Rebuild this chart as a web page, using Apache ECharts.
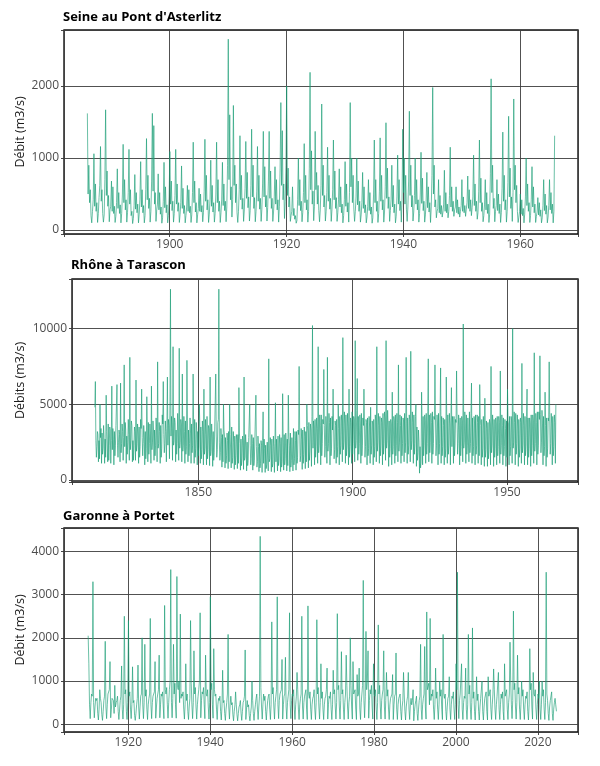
<!DOCTYPE html>
<html><head><meta charset="utf-8">
<script src="https://cdn.jsdelivr.net/npm/echarts@6/dist/echarts.min.js"></script>
<style>html,body{margin:0;padding:0;background:#fff}#c{width:600px;height:766px}</style>
</head><body><div id="c"></div>
<script>
const panelTitles = ["Seine au Pont d'Asterlitz", "Rhône à Tarascon", "Garonne à Portet"];
const yAxisNames = ["Débit (m3/s)", "Débits (m3/s)", "Débit (m3/s)"];

// Seine: starts 1885.9, 8 values per year
const seineStart = 1885.9, seinePerYear = 8;
const seineFlow = [
1620,500,900,380,560,200,100,260,
420,1060,330,640,260,380,105,230,
450,620,1160,400,560,230,110,210,
700,1670,480,820,330,480,115,280,
330,680,260,600,230,330,105,190,
380,850,300,520,230,350,100,230,
500,1190,380,700,280,420,110,240,
520,1120,360,560,200,260,90,160,
340,770,290,520,240,360,100,220,
420,950,320,560,240,340,100,200,
560,1270,420,760,300,440,110,260,
680,1620,540,1450,360,520,120,280,
360,780,280,520,220,320,95,170,
400,940,310,600,240,350,100,200,
460,1090,360,680,270,400,110,230,
480,1120,360,640,260,380,105,220,
380,890,300,580,230,340,100,200,
320,620,260,560,240,330,105,210,
520,1220,380,680,250,380,100,210,
300,580,260,500,250,340,115,240,
540,1260,400,760,280,420,105,220,
420,970,330,620,250,380,110,230,
500,1220,380,700,260,400,105,240,
430,940,340,640,270,400,115,320,
900,2650,700,1600,420,600,180,420,
1730,620,900,380,640,240,105,260,
560,1310,420,760,290,440,120,280,
580,1230,440,800,310,460,125,270,
620,1400,460,900,300,450,115,260,
540,1160,400,760,290,440,120,290,
640,1370,460,880,320,480,125,310,
680,1370,440,820,300,440,120,250,
460,880,360,700,280,420,110,330,
860,1770,620,1380,420,640,160,400,
900,2000,480,860,320,460,120,200,
260,600,200,300,150,200,95,130,
420,1000,340,700,270,400,115,240,
520,1200,380,760,280,420,110,260,
860,2190,560,1100,360,540,130,330,
1370,560,800,360,620,270,115,280,
620,1750,480,900,320,480,125,260,
520,1150,400,760,290,440,120,280,
560,1250,420,820,300,450,120,240,
420,850,320,600,240,360,100,200,
420,950,330,640,250,380,110,520,
1770,600,1000,380,760,290,120,260,
460,1000,350,680,260,400,110,210,
380,800,300,600,240,350,100,180,
330,700,270,520,220,320,95,170,
500,1250,380,700,260,400,105,230,
540,1280,400,760,280,420,110,250,
600,1490,440,860,300,460,120,270,
420,900,320,620,240,360,100,190,
460,1040,360,700,270,400,110,430,
1400,520,1000,360,760,290,120,320,
680,1650,480,900,320,480,125,250,
480,1000,360,700,280,420,110,230,
500,1080,370,720,270,400,110,210,
400,800,310,600,250,380,105,320,
760,1980,500,900,320,420,170,260,
300,700,240,480,220,340,180,250,
360,830,260,520,240,360,170,260,
480,1150,320,600,260,400,190,280,
320,600,240,420,220,320,180,260,
340,700,260,460,240,340,190,290,
380,750,300,560,260,420,200,310,
460,1040,340,640,260,400,150,240,
540,1250,380,720,260,380,115,200,
360,700,280,520,230,360,105,220,
780,2100,520,900,300,440,115,260,
340,700,270,500,230,360,105,240,
580,1360,400,760,280,420,110,260,
660,1580,460,860,300,460,120,520,
1820,560,900,380,620,260,105,180,
260,500,220,420,200,300,100,220,
460,1000,340,640,260,380,105,200,
420,880,320,600,240,360,105,190,
250,450,210,380,190,280,100,170,
340,700,270,500,220,340,100,180,
340,700,280,520,230,360,100,260,
1310
];

// Rhône: starts 1816.5, 6 values per year
const rhoneStart = 1816.5, rhonePerYear = 6;
const rhoneFlow = [
4800,6500,2600,1500,2200,3200,
3000,1200,2600,1400,5000,2800,
3400,1100,3100,1700,2100,3600,
2800,1100,2700,1500,5600,3200,
3100,1200,3700,1300,2300,3500,
3300,1100,2600,6200,2000,3400,
2700,1000,3200,1600,2300,3600,
3500,6300,2300,1500,2500,3300,
3000,1200,6400,1800,2400,3700,
3200,1300,2800,7600,2200,3800,
3300,1100,2900,1700,2500,4000,
3000,1300,8100,2000,2600,3900,
3600,1200,2600,1300,2300,3500,
3200,1300,6600,1900,2400,3700,
3100,1100,3500,1500,2200,4000,
3400,6000,2800,1600,2400,3600,
2900,1000,3200,1400,2100,5500,
3300,1200,3800,1700,2400,3700,
3100,1100,6200,2000,2500,3900,
3300,1300,3300,1600,2300,4100,
3500,1200,7800,2100,2400,3800,
3200,1100,3600,1500,2100,4300,
3700,6500,3000,1800,2400,3900,
3200,1200,3400,6800,2300,4000,
3600,1400,5200,12600,2900,4200,
3400,1300,8800,2300,2600,4100,
3800,1200,3300,1700,2400,4400,
3300,1300,8700,2100,2500,4000,
3700,1200,7000,1900,2300,4200,
3200,1100,3900,1700,2200,7900,
3900,1200,3300,1600,2400,4100,
3100,1100,3700,1800,2300,7000,
3500,1100,4000,1500,2100,3800,
3300,1000,3200,1600,2200,5000,
3700,1100,3500,1400,2000,3900,
3200,1000,6000,1700,2100,4000,
3000,1000,4200,1400,2000,3600,
3400,950,6800,1600,1900,3700,
2900,900,3200,1300,1800,3500,
3500,7000,2900,1500,2000,3800,
4000,12600,2500,1300,1800,3400,
2800,850,3000,1200,5000,3300,
2900,800,2800,1100,1600,3100,
2600,750,3200,1200,5000,3000,
2900,800,3500,1100,1500,3200,
2500,700,2900,1000,1600,3000,
2700,750,3000,1100,6100,3100,
2400,650,2700,950,1400,2900,
2600,700,6800,1300,1500,3000,
2300,600,2500,950,1300,2800,
2700,5000,2300,1000,1400,3000,
2400,650,2800,950,1300,2700,
2600,5600,2200,850,1200,2900,
2200,550,2400,800,1100,2600,
2300,500,2600,4500,1100,2700,
2100,500,2300,750,1000,2500,
2500,600,8000,1200,1400,2800,
2300,550,2700,850,1100,2900,
2200,500,2400,5100,1200,2700,
2600,600,2900,950,1300,3000,
2400,550,2800,850,1200,5700,
2700,650,3000,1000,1400,3100,
2500,600,2700,950,5600,2900,
2300,550,3100,850,1300,2800,
2800,600,3400,1000,1400,3200,
2600,650,3200,1100,1500,3300,
3000,7500,3500,1200,1600,3400,
2700,700,3300,1100,1700,3500,
2900,750,3200,1200,5000,3600,
3100,800,3800,1300,1900,3700,
3300,900,4200,10200,2100,3900,
3500,1000,4000,1500,2200,4100,
3400,1100,8800,1800,2300,4300,
3600,1000,4300,1600,2400,4000,
3700,7300,3600,1500,2200,4200,
3500,1100,8100,1900,2400,4400,
3800,1000,4100,1600,2100,4200,
3300,6000,3500,1400,2000,3900,
3600,1100,4000,1500,2200,5000,
3400,1000,4200,1700,2300,4300,
3900,1200,9400,2000,2500,4500,
3700,1100,4300,1600,2300,4400,
3500,1000,6000,1500,2200,4100,
3800,1100,4500,1700,2400,4200,
4000,1200,9200,2100,2600,4600,
6700,1300,4200,1700,2400,4300,
3700,1100,4400,1600,2300,4100,
3600,6000,3900,1500,2200,4000,
3800,1000,4100,1600,2100,4200,
3500,1100,4800,1700,2300,3900,
3700,1000,4000,1500,2200,4300,
3900,1200,8800,1900,2500,4400,
3600,1100,4200,1600,2300,4100,
3800,1000,4400,1700,2400,4500,
4100,1300,9200,2100,2600,4600,
3500,900,3900,1500,2100,4000,
3700,1000,5800,1700,2200,4200,
3900,1100,4300,1600,2300,4400,
3800,1200,7600,1900,2500,4300,
3600,1100,4200,1600,2400,4100,
3900,1200,4400,1800,2500,8100,
3700,1100,4100,1700,2300,4300,
4000,1200,8500,2000,2600,4500,
3800,1100,4300,1700,2400,4200,
5000,900,3500,1300,1800,3300,
2500,450,2200,800,1200,5800,
3700,1000,4200,1600,2300,4300,
3900,1100,4400,1700,2400,4500,
8000,1200,4300,1800,2500,4400,
3800,1100,4500,1700,2400,4200,
4000,7600,4100,1600,2300,4300,
3700,1000,4400,1700,2400,4500,
7400,1100,4200,1600,2200,4100,
3600,1000,4000,1500,2100,6800,
3900,1100,4300,1700,2300,4400,
3700,1000,4100,6100,2200,4200,
3500,1100,4200,1600,2300,4000,
3800,7200,4000,1700,2400,4300,
3600,1000,4100,1600,2200,4200,
3900,1200,10300,2100,2500,4500,
3700,1100,4300,1700,2300,4100,
4000,1200,4500,1800,2400,4400,
6400,1100,4100,1600,2200,4200,
3700,1000,4300,1700,2300,4300,
3800,1100,4200,1600,6300,4100,
3600,1000,4000,1500,2100,4200,
3500,900,5400,1500,2000,3900,
3400,900,3800,1400,2000,4000,
3700,1000,7500,1800,2300,4300,
3500,900,4000,1500,2100,4100,
3700,1000,4200,1600,2200,4200,
3800,1100,7200,1700,2300,4300,
3600,1000,4100,1600,2200,4000,
3400,900,3900,1500,6000,3900,
3700,1000,4200,1600,2200,4200,
3900,1100,10000,2100,2500,4500,
3800,1000,4400,1700,2400,4300,
3500,900,4000,1500,2100,4100,
3800,1100,7700,1800,2300,4400,
3600,1000,4200,1600,2200,4200,
6000,1000,4100,1500,2100,4100,
3700,900,4300,1600,2300,4300,
3900,1100,8400,1900,2400,4400,
3800,1000,4500,1700,2300,4500,
4000,8200,4300,1800,2500,4600,
3700,1000,4200,1600,2200,5800,
3600,900,4100,1500,2100,4100,
3900,7800,4300,1700,2400,4400,
3700,1000,4200,1600,2200,4300,
3800,1100,5000
];

// Garonne: starts 1910.2, 6 values per year
const garonneStart = 1910.2, garonnePerYear = 6;
const garonneFlow = [
2050,1400,450,130,500,700,
650,3300,500,150,400,600,
550,600,250,100,350,800,
600,500,220,90,300,550,
650,1920,400,130,450,700,
700,800,1450,150,350,600,
600,550,250,900,400,500,
550,650,300,110,330,550,
650,1350,350,120,450,2500,
700,800,300,110,500,2400,
650,750,350,130,450,1330,
500,550,200,90,250,450,
600,1370,400,120,400,650,
700,2000,450,130,500,1850,
650,800,350,110,450,600,
700,2450,450,130,500,650,
650,750,1450,140,400,600,
700,800,1600,150,450,700,
650,750,400,130,2750,800,
700,850,450,140,500,800,
1000,3580,500,150,600,1850,
700,950,450,140,3420,850,
800,1000,500,2550,600,700,
650,750,350,120,450,1400,
550,700,300,110,400,600,
2400,950,450,130,500,1700,
700,850,400,120,450,650,
800,1000,2580,150,550,750,
700,850,450,130,1600,700,
650,800,400,120,500,2950,
800,950,450,140,1750,800,
650,700,350,110,450,600,
550,650,300,100,400,1250,
500,550,250,90,350,500,
700,2080,400,120,450,650,
450,500,220,80,300,450,
750,450,220,80,250,400,
450,550,250,90,300,500,
550,650,1720,110,350,550,
400,450,200,80,250,400,
1000,550,250,90,300,450,
600,700,350,110,400,650,
4350,850,400,120,450,700,
550,650,300,100,350,550,
650,700,350,110,450,2370,
700,850,400,120,500,650,
800,2950,450,130,550,700,
700,800,1500,120,450,650,
700,1550,400,120,500,650,
800,2580,450,130,550,700,
650,800,350,110,450,650,
1200,800,350,110,450,600,
700,2500,400,120,500,650,
650,800,350,110,2740,700,
600,750,350,110,450,600,
650,800,350,110,500,2420,
700,850,400,120,500,1400,
600,750,350,110,450,600,
650,800,1300,120,450,650,
600,750,350,110,450,1250,
700,800,400,120,500,2560,
800,900,400,120,550,1680,
700,800,350,110,500,700,
1600,900,400,120,500,650,
2000,900,400,120,1450,700,
700,800,350,110,1150,650,
700,1300,350,110,500,700,
900,3330,550,150,650,2150,
800,1000,1700,140,550,800,
700,900,400,120,1400,700,
650,800,350,110,500,2300,
700,900,400,120,550,700,
800,1700,400,120,550,1200,
650,800,350,110,450,600,
600,700,1150,110,450,650,
700,1650,350,110,450,600,
600,700,300,100,400,550,
1200,700,300,100,400,550,
650,1200,350,110,450,600,
450,550,800,80,300,450,
550,650,250,90,350,550,
650,1850,350,110,450,600,
700,1800,400,120,2600,800,
800,950,450,2450,550,700,
650,800,350,110,450,1300,
600,750,350,110,450,1000,
650,800,350,110,2080,700,
600,700,300,100,400,600,
650,1100,350,110,450,650,
600,750,350,110,450,1400,
800,3520,450,130,550,700,
700,1400,350,110,500,650,
600,1300,350,110,450,2080,
700,900,350,110,500,2230,
600,750,300,100,450,1100,
550,700,300,100,400,600,
600,1000,300,100,400,600,
600,750,300,100,1100,650,
650,800,350,110,450,700,
1280,800,350,110,450,650,
650,1200,350,110,450,700,
600,750,300,100,1400,650,
650,800,350,110,500,700,
1900,1000,450,130,550,2620,
800,950,400,120,500,1600,
700,850,350,110,450,1000,
650,800,350,110,450,650,
600,750,300,100,450,1750,
800,950,400,120,1200,700,
650,800,350,110,450,700,
600,1000,350,110,450,1000,
650,800,350,110,500,3520,
700,550,250,90,400,550,
550,750,250,90,350,500,
600,450,300
];

function toPoints(start, perYear, values) {
  return values.map((v, i) => [start + i / perYear, v]);
}
const seriesData = [
  toPoints(seineStart, seinePerYear, seineFlow),
  toPoints(rhoneStart, rhonePerYear, rhoneFlow),
  toPoints(garonneStart, garonnePerYear, garonneFlow)
];

const layout = [
  {grid:{left:64, top:30, width:514, height:204}, titleTop:11, titleLeft:63,
   x:[1881.9,1969.9,20,5], y:[-55,2778,1000,3], nameGap:37},
  {grid:{left:72, top:279, width:506, height:203}, titleTop:259, titleLeft:71,
   x:[1809.1,1973.0,50,3], y:[-132,13272,5000,3], nameGap:45},
  {grid:{left:64, top:528, width:514, height:204}, titleTop:510, titleLeft:63,
   x:[1904.3,2029.8,20,6], y:[-179,4543,1000,4], nameGap:37}
];

const FONT = "'Open Sans', 'DejaVu Sans', sans-serif";
const gridLine = {show:true, lineStyle:{color:'#3d3d3d', width:0.9}};
const tick = {show:true, length:3, lineStyle:{color:'#333', width:0.9}};
function stepFormatter(step){
  return v => (Math.abs(v - Math.round(v/step)*step) < 1e-6 ? String(Math.round(v)) : '');
}

const option = {
  animation:false,
  backgroundColor:'#fff',
  title: layout.map((L,i)=>({text:panelTitles[i], left:L.titleLeft, top:L.titleTop, padding:0,
    textStyle:{fontFamily:FONT, fontWeight:'bold', fontSize:13, color:'#000'}})),
  grid: layout.map(L=>Object.assign({show:true, borderColor:'#111', borderWidth:1.4, backgroundColor:'#fff', containLabel:false}, L.grid)),
  xAxis: layout.map((L,i)=>({type:'value', gridIndex:i, min:L.x[0], max:L.x[1], splitNumber:L.x[3], scale:true,
    axisLine:{show:false, onZero:false}, axisTick:tick, splitLine:gridLine,
    axisLabel:{fontFamily:FONT, fontSize:12, color:'#4d4d4d', margin:5, formatter:stepFormatter(L.x[2])}})),
  yAxis: layout.map((L,i)=>({type:'value', gridIndex:i, min:L.y[0], max:L.y[1], splitNumber:L.y[3], scale:true,
    name:yAxisNames[i], nameLocation:'middle', nameGap:L.nameGap, nameMoveOverlap:false,
    nameTextStyle:{fontFamily:FONT, fontSize:12.5, color:'#1a1a1a'},
    axisLine:{show:false, onZero:false}, axisTick:tick, splitLine:gridLine,
    axisLabel:{fontFamily:FONT, fontSize:12, color:'#4d4d4d', margin:5, formatter:stepFormatter(L.y[2])}})),
  series: seriesData.map((d,i)=>({type:'line', xAxisIndex:i, yAxisIndex:i, data:d, showSymbol:false, symbol:'none',
    sampling:null, lineStyle:{color:'#1b9e77', width:0.8, opacity:0.82}, silent:true}))
};
const chart = echarts.init(document.getElementById('c'), null, {renderer:'canvas'});
chart.setOption(option);
</script></body></html>
